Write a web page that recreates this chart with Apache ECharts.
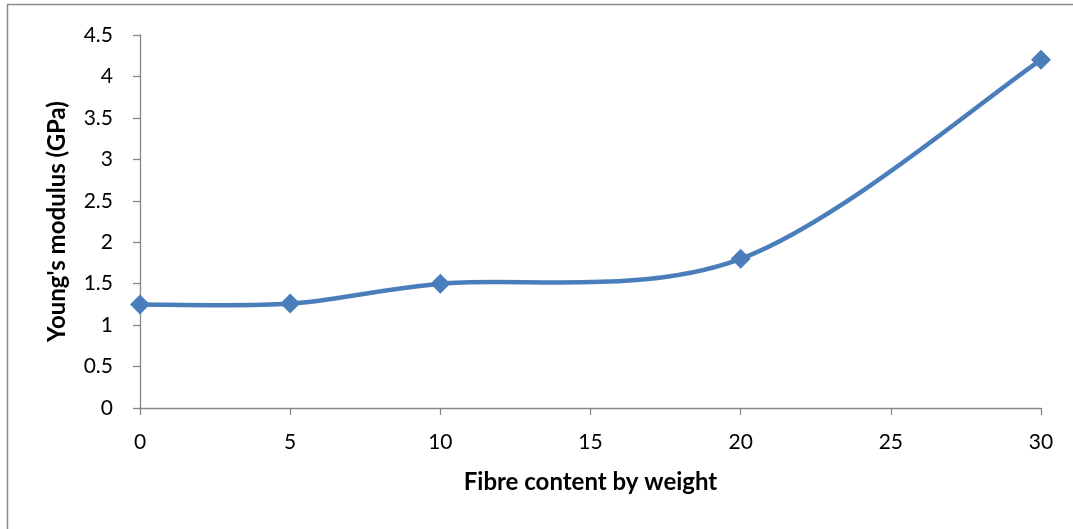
<!DOCTYPE html>
<html>
<head>
<meta charset="utf-8">
<script src="https://cdn.jsdelivr.net/npm/echarts@6/dist/echarts.min.js"></script>
<style>
  html, body { margin: 0; padding: 0; background: #fff; }
  #chart { width: 1073px; height: 529px; }
</style>
</head>
<body>
<div id="chart"></div>
<script>
// Fibre content (% by weight) and measured Young's modulus
const fibreContent = [0, 5, 10, 20, 30];
const youngsModulus = [1.25, 1.26, 1.5, 1.8, 4.2];

const xTitle = 'Fibre content by weight';
const yTitle = "Young's modulus (GPa)";

const FONT = 'Lato, "Open Sans", "Liberation Sans", sans-serif';
const AXIS_GRAY = '#868686';
const LINE_BLUE = '#4A7EBB';

const points = fibreContent.map((x, i) => [x, youngsModulus[i]]);

// Smooth curve through the points: Catmull-Rom segments drawn as cubic Béziers,
// with control points taken from the neighbouring points (mapped to pixels by the axes).
function renderSegment(params, api) {
  const i = params.dataIndex;
  const n = points.length;
  if (i >= n - 1) return null;
  const at = k => api.coord(points[Math.max(0, Math.min(n - 1, k))]);
  const p0 = at(i - 1), p1 = at(i), p2 = at(i + 1), p3 = at(i + 2);
  return {
    type: 'bezierCurve',
    shape: {
      x1: p1[0], y1: p1[1],
      x2: p2[0], y2: p2[1],
      cpx1: p1[0] + (p2[0] - p0[0]) / 6,
      cpy1: p1[1] + (p2[1] - p0[1]) / 6,
      cpx2: p2[0] - (p3[0] - p1[0]) / 6,
      cpy2: p2[1] - (p3[1] - p1[1]) / 6
    },
    style: { fill: null, stroke: LINE_BLUE, lineWidth: 4.5, lineCap: 'round' },
    silent: true
  };
}

const chart = echarts.init(document.getElementById('chart'), null, { renderer: 'canvas' });

chart.setOption({
  animation: false,
  backgroundColor: '#ffffff',
  graphic: [{
    type: 'rect',
    shape: { x: 7.5, y: 4.5, width: 1080, height: 540 },
    style: { fill: 'none', stroke: '#8c8c8c', lineWidth: 1.5 },
    silent: true
  }],
  grid: { left: 140, right: 32, top: 35, bottom: 121 },
  xAxis: {
    type: 'value',
    min: 0, max: 30, interval: 5,
    name: xTitle,
    nameLocation: 'middle',
    nameGap: 62,
    nameTextStyle: { fontFamily: FONT, fontWeight: 'bold', fontSize: 24, color: '#000' },
    axisLine: { show: true, lineStyle: { color: AXIS_GRAY, width: 1.3 } },
    axisTick: { show: true, length: 7, lineStyle: { color: AXIS_GRAY, width: 1.3 } },
    axisLabel: { fontFamily: FONT, fontSize: 21, color: '#000', margin: 24 },
    splitLine: { show: false }
  },
  yAxis: {
    type: 'value',
    min: 0, max: 4.5, interval: 0.5,
    name: yTitle,
    nameLocation: 'middle',
    nameGap: 71,
    nameRotate: 90,
    nameTextStyle: { fontFamily: FONT, fontWeight: 'bold', fontSize: 24, color: '#000' },
    axisLine: { show: true, lineStyle: { color: AXIS_GRAY, width: 1.3 } },
    axisTick: { show: true, length: 7, lineStyle: { color: AXIS_GRAY, width: 1.3 } },
    axisLabel: { fontFamily: FONT, fontSize: 21, color: '#000', margin: 27 },
    splitLine: { show: false }
  },
  series: [
    {
      type: 'custom',
      renderItem: renderSegment,
      data: points,
      encode: { x: 0, y: 1 },
      z: 2
    },
    {
      type: 'scatter',
      data: points,
      symbol: 'diamond',
      symbolSize: 20,
      itemStyle: { color: LINE_BLUE, opacity: 1 },
      z: 3
    }
  ]
});
</script>
</body>
</html>
